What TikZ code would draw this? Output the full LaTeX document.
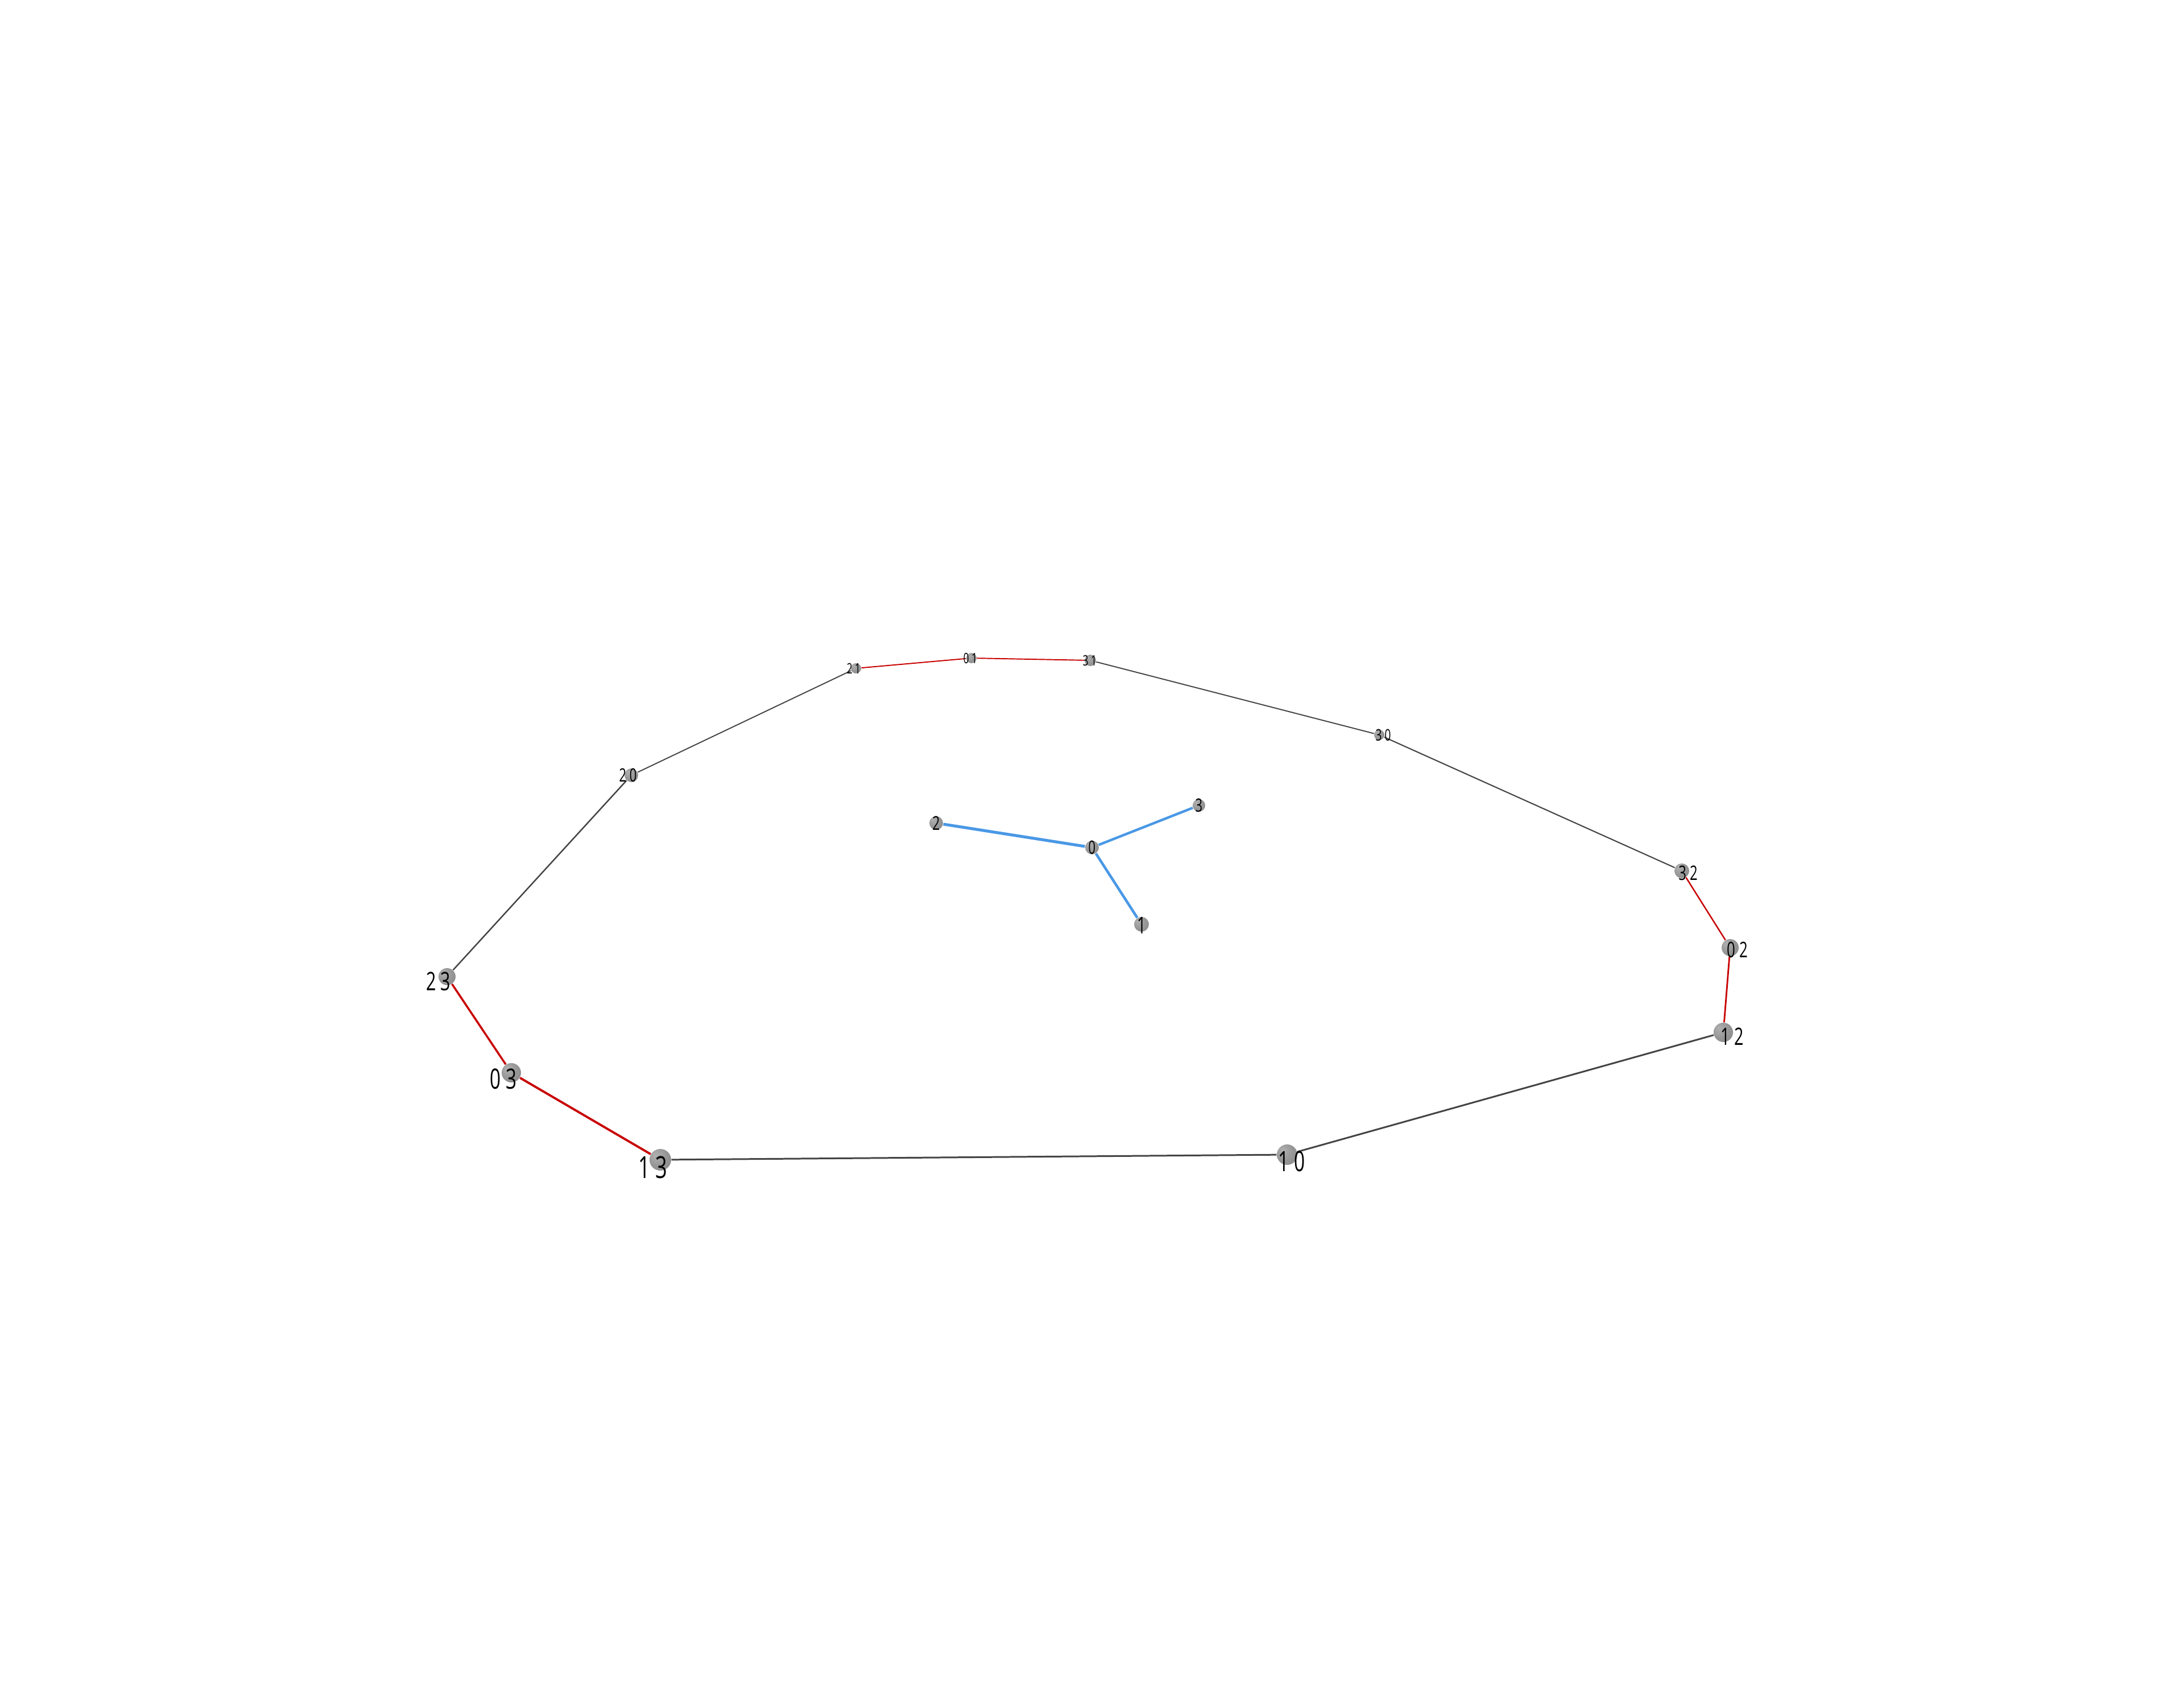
\documentclass[tikz,border=0pt]{standalone}
\usepackage{fontspec}
\usepackage{tikz}
\newfontfamily\lblfont{Open Sans}[FakeStretch=0.68]
\definecolor{ringred}{RGB}{200,0,0}
\definecolor{ringgray}{RGB}{68,68,68}
\definecolor{treeblue}{RGB}{74,152,230}
\pgfdeclareradialshading{sphere}{\pgfpoint{-12bp}{12bp}}{color(0bp)=(gray!62); color(22bp)=(gray!82); color(45bp)=(gray!96); color(62bp)=(black!55)}

\begin{document}
\begin{tikzpicture}[
	ball/.style={shape=circle, inner sep=0pt, shading=sphere, minimum size=#1},
	lbl/.style={inner sep=0pt, font={\lblfont\fontsize{#1pt}{#1pt}\selectfont}},
	redline/.style={-, draw=ringred},
	grayline/.style={-, draw=ringgray},
	blueline/.style={-, draw=treeblue}]
	
	\useasboundingbox (0,0) rectangle (38.4,-29.8);
	
	% outer ring
	\node[ball=0.30cm] (n23) at (7.86, -17.17)  {};
	\node[ball=0.34cm] (n03) at (8.99, -18.86)  {};
	\node[ball=0.38cm] (n13) at (11.61, -20.39) {};
	\node[ball=0.36cm] (n10) at (22.63, -20.30) {};
	\node[ball=0.34cm] (n12) at (30.30, -18.15) {};
	\node[ball=0.30cm] (n02) at (30.42, -16.66) {};
	\node[ball=0.26cm] (n32) at (29.57, -15.31) {};
	\node[ball=0.18cm] (n30) at (24.25, -12.92) {};
	\node[ball=0.20cm] (n31) at (19.17, -11.61) {};
	\node[ball=0.18cm] (n01) at (17.08, -11.57) {};
	\node[ball=0.18cm] (n21) at (15.05, -11.75) {};
	\node[ball=0.24cm] (n20) at (11.10, -13.63) {};
	
	% inner tree
	\node[ball=0.24cm] (c0) at (19.20, -14.90) {};
	\node[ball=0.24cm] (c2) at (16.46, -14.47) {};
	\node[ball=0.22cm] (c3) at (21.08, -14.16) {};
	\node[ball=0.26cm] (c1) at (20.07, -16.25) {};
	
	\path[redline, line width=1.0pt] (n23) edge (n03);
	\path[redline, line width=1.1pt] (n03) edge (n13);
	\path[grayline, line width=0.85pt] (n13) edge (n10);
	\path[grayline, line width=0.85pt] (n10) edge (n12);
	\path[redline, line width=0.8pt] (n12) edge (n02);
	\path[redline, line width=0.7pt] (n02) edge (n32);
	\path[grayline, line width=0.6pt] (n32) edge (n30);
	\path[grayline, line width=0.55pt] (n30) edge (n31);
	\path[redline, line width=0.55pt] (n31) edge (n01);
	\path[redline, line width=0.55pt] (n01) edge (n21);
	\path[grayline, line width=0.55pt] (n21) edge (n20);
	\path[grayline, line width=0.7pt] (n20) edge (n23);
	
	\path[blueline, line width=1.45pt] (c0) edge (c2);
	\path[blueline, line width=1.25pt] (c0) edge (c3);
	\path[blueline, line width=1.3pt] (c0) edge (c1);
	
	% labels
	\node[lbl=12.8] (t23) at ([shift={(-0.15,-0.08)}]n23.center) {2 3};
	\node[lbl=14]   (t03) at ([shift={(-0.14,-0.11)}]n03.center) {0 3};
	\node[lbl=15.2] (t13) at ([shift={(-0.13,-0.13)}]n13.center) {1 3};
	\node[lbl=14]   (t10) at ([shift={(0.08,-0.12)}]n10.center)  {1 0};
	\node[lbl=12]   (t12) at ([shift={(0.16,-0.07)}]n12.center)  {1 2};
	\node[lbl=10.8] (t02) at ([shift={(0.13,-0.04)}]n02.center)  {0 2};
	\node[lbl=10]   (t32) at ([shift={(0.11,-0.04)}]n32.center)  {3 2};
	\node[lbl=8]    (t30) at ([shift={(0.07,0)}]n30.center)      {3 0};
	\node[lbl=7.2]  (t31) at ([shift={(-0.01,0)}]n31.center)     {3 1};
	\node[lbl=7.2]  (t01) at ([shift={(-0.02,0)}]n01.center)     {0 1};
	\node[lbl=7.2]  (t21) at ([shift={(-0.04,0)}]n21.center)     {2 1};
	\node[lbl=9.2]  (t20) at ([shift={(-0.06,0)}]n20.center)     {2 0};
	
	\node[lbl=9.2]  (s0) at (c0.center) {0};
	\node[lbl=9.6]  (s2) at (c2.center) {2};
	\node[lbl=9.2]  (s3) at (c3.center) {3};
	\node[lbl=11.6] (s1) at ([shift={(0,-0.02)}]c1.center) {1};

\end{tikzpicture}
\end{document}
